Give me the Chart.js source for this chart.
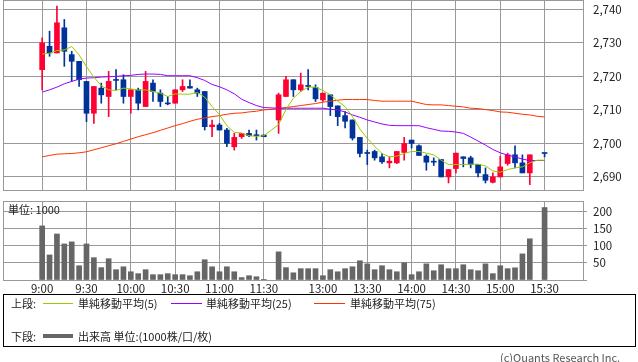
<!DOCTYPE html>
<html>
<head>
<meta charset="utf-8">
<script src="https://cdn.jsdelivr.net/npm/chart.js@4.4.1/dist/chart.umd.min.js"></script>
<style>
  body { margin: 0; background: #fff; width: 638px; height: 362px; position: relative; overflow: hidden;
         font-family: 'Noto Sans CJK JP', 'Noto Sans', sans-serif; font-size: 11px; color: #222; }
  canvas { position: absolute; left: 0; }
  #price { top: 0; }
  #volume { top: 196px; }
  .t { position: absolute; line-height: 14px; white-space: nowrap; }
  .ln { position: absolute; height: 1px; }
  #legend { position: absolute; left: 3px; top: 294px; width: 633px; height: 53px; box-sizing: border-box; border: 1px solid #000; }
</style>
</head>
<body>
<canvas id="price" width="638" height="192"></canvas>
<canvas id="volume" width="638" height="100"></canvas>

<div class="t" style="left:8px; top:202px;">単位: 1000</div>

<div id="legend"></div>
<div class="t" style="left:11px; top:296px;">上段:</div>
<div class="ln" style="left:43px; top:303px; width:30px; background:#99cc00;"></div>
<div class="t" style="left:78px; top:296px;">単純移動平均(5)</div>
<div class="ln" style="left:171px; top:303px; width:31px; background:#9900ff;"></div>
<div class="t" style="left:206px; top:296px;">単純移動平均(25)</div>
<div class="ln" style="left:314px; top:303px; width:31px; background:#ff3300;"></div>
<div class="t" style="left:350px; top:296px;">単純移動平均(75)</div>
<div class="t" style="left:11px; top:329px;">下段:</div>
<div class="ln" style="left:43px; top:334px; width:30px; height:4px; background:#666;"></div>
<div class="t" style="left:78px; top:329px;">出来高 単位:(1000株/口/枚)</div>
<div class="t" style="left:500px; top:350px; color:#555;">(c)Quants Research Inc.</div>

<script>
// 5-minute slots: 9:00 .. 11:30, one empty lunch slot, 12:30 .. 15:30
const tickSlots = [0, 6, 12, 18, 24, 30, 38, 44, 50, 56, 62, 68];
const tickLabels = ['9:00', '9:30', '10:00', '10:30', '11:00', '11:30', '13:00', '13:30', '14:00', '14:30', '15:00', '15:30'];

const priceTicks = [2690, 2700, 2710, 2720, 2730, 2740];
const volumeTicks = [0, 50, 100, 150, 200];

const open = [2722, 2729, 2727, 2734.5, 2726.5, 2724.5, 2718.5, 2709, 2716.5, 2714,
  2719, 2719, 2714, 2716, 2711, 2718, 2715, 2712, 2712, 2716,
  2717, 2716, 2715.5, 2705, 2705.5, 2704, 2699, 2702, 2703, 2702.5,
  2702.5, null, 2707, 2714, 2719, 2716, 2717.2, 2716.7, 2713, 2714.5,
  2711.2, 2708.3, 2707, 2701.8, 2697.3, 2697.6, 2696, 2694.2, 2694.2, 2697.3,
  2701, 2699.3, 2696.2, 2694.6, 2695.2, 2690, 2692.5, 2696, 2695.7, 2693.7,
  2690.7, 2688.4, 2690, 2694, 2696.6, 2694.2, 2691.2, null, 2697];
const high = [2731.5, 2733.5, 2741, 2737, 2727.5, 2724.5, 2718.5, 2717, 2718, 2721.5,
  2722, 2720.5, 2716, 2716.5, 2721.5, 2719, 2716, 2714, 2716, 2719,
  2719, 2716.5, 2715.5, 2707, 2706, 2704.5, 2703, 2703, 2704, 2704,
  2702.5, null, 2715, 2720, 2719, 2721, 2722, 2717.5, 2715, 2714.5,
  2711.2, 2709.5, 2707, 2701.8, 2698, 2698, 2697, 2696, 2697.6, 2701.8,
  2701, 2699.6, 2696.6, 2695.7, 2695.2, 2692.2, 2697.1, 2696, 2696.2, 2693.7,
  2692.7, 2691.2, 2696.2, 2697.1, 2699.3, 2696.6, 2696.6, null, 2697];
const low = [2716, 2726, 2727, 2723, 2718.5, 2717, 2706.5, 2706, 2712, 2708,
  2716, 2712, 2709, 2710, 2711, 2712.5, 2711, 2711.5, 2712, 2715.5,
  2716.5, 2714, 2704, 2702, 2704, 2699, 2698, 2701.5, 2702, 2701,
  2702, null, 2703, 2714, 2714, 2715.5, 2716, 2712.5, 2712.5, 2708.3,
  2705.3, 2704.6, 2701, 2696, 2693.7, 2695, 2694, 2692.7, 2694, 2695,
  2698.6, 2696.4, 2692, 2693.4, 2690, 2688.2, 2691.2, 2693, 2692.7, 2690,
  2688.2, 2688.2, 2690, 2693.5, 2692.7, 2691.2, 2687.7, null, 2696];
const close = [2730, 2727, 2736, 2727.5, 2724.5, 2719, 2709, 2717, 2714.5, 2718.5,
  2718.8, 2714, 2716, 2712, 2718.5, 2715.5, 2712.5, 2711.8, 2716, 2717,
  2716.5, 2715, 2705, 2705.5, 2704, 2700, 2701.8, 2703, 2702.3, 2702.3,
  2702, null, 2714.5, 2719, 2716, 2717.5, 2717, 2713.3, 2715, 2711,
  2708, 2706.6, 2701.6, 2697, 2697, 2695.7, 2694.5, 2694.7, 2697.6, 2700,
  2700, 2696.4, 2694.4, 2694.4, 2690, 2692.2, 2697.1, 2695.5, 2693.7, 2691.2,
  2689, 2690, 2693, 2696.6, 2694.2, 2691.2, 2696.6, null, 2697];

const sma5 = [2726.7, 2726.9, 2727.7, 2727.9, 2728.9, 2726.4, 2722.9, 2719.8, 2717.2, 2716.0,
  2715.8, 2716.5, 2716.3, 2715.9, 2716.0, 2715.5, 2715.0, 2714.0, 2714.8, 2714.7,
  2714.7, 2715.2, 2713.8, 2711.0, 2708.6, 2705.3, 2703.3, 2703.1, 2702.3, 2702.1,
  2702.3, null, 2705.6, 2710.1, 2713.5, 2715.5, 2716.8, 2716.8, 2715.8, 2714.5,
  2712.6, 2711.0, 2708.0, 2704.3, 2701.5, 2699.1, 2697.0, 2696.0, 2696.2, 2697.0,
  2697.6, 2697.6, 2697.1, 2696.6, 2695.0, 2693.7, 2693.7, 2693.7, 2693.8, 2693.8,
  2693.3, 2691.8, 2691.4, 2692.2, 2692.7, 2693.0, 2694.2, 2695.0, 2695.0];
const sma25 = [2715.3, 2716.0, 2716.8, 2717.8, 2718.5, 2719.2, 2719.5, 2719.6, 2719.8, 2719.9,
  2720.0, 2720.2, 2720.3, 2720.6, 2720.7, 2720.7, 2720.6, 2720.2, 2720.2, 2720.2,
  2720.2, 2719.6, 2718.8, 2717.6, 2716.9, 2716.0, 2714.8, 2713.2, 2712.2, 2711.3,
  2710.7, null, 2710.5, 2710.5, 2710.5, 2710.5, 2710.5, 2710.5, 2710.5, 2710.2,
  2710.0, 2709.4, 2708.5, 2707.8, 2707.0, 2706.4, 2705.8, 2705.4, 2705.3, 2705.3,
  2705.3, 2705.3, 2704.7, 2704.2, 2703.7, 2703.6, 2703.4, 2703.0, 2701.9, 2700.7,
  2699.5, 2698.2, 2697.2, 2696.5, 2696.0, 2695.3, 2694.9, 2694.9, 2694.9];
const sma75 = [2696.0, 2696.4, 2696.8, 2696.9, 2697.0, 2697.2, 2697.5, 2698.1, 2698.7, 2699.3,
  2699.9, 2700.6, 2701.3, 2702.0, 2702.6, 2703.2, 2703.9, 2704.6, 2705.3, 2705.9,
  2706.6, 2707.2, 2707.6, 2708.0, 2708.3, 2708.7, 2709.0, 2709.1, 2709.4, 2709.6,
  2710.0, null, 2710.4, 2710.7, 2711.0, 2711.3, 2711.6, 2711.9, 2712.3, 2712.6,
  2712.9, 2713.1, 2713.1, 2713.1, 2713.1, 2712.8, 2712.6, 2712.6, 2712.6, 2712.6,
  2712.6, 2712.1, 2711.6, 2711.5, 2711.5, 2711.3, 2711.1, 2710.9, 2710.5, 2710.4,
  2710.1, 2709.8, 2709.4, 2709.3, 2709.0, 2708.7, 2708.5, 2708.1, 2707.9];

const volume = [157.5, 73, 134, 105, 111, 41.5, 105, 65, 36, 62,
  30, 38.5, 24, 18.5, 30, 15.5, 15.5, 18.5, 15.5, 15.5,
  12.5, 24, 59, 38.5, 24, 38.5, 24, 7, 12.5, 9.5,
  1, null, 82, 36, 21, 33, 33, 33, 12.5, 30,
  24, 33, 38.5, 56, 47, 30, 41.5, 30, 24, 50,
  15.5, 24, 47, 27, 44.5, 33, 33, 44.5, 30, 27,
  47, 18.5, 41.5, 33, 35.5, 76, 120, null, 211];

const UP = '#ff0033';
const DOWN = '#003399';
const GRID = '#999999';
const FONT = { family: "'Noto Sans CJK JP', 'Noto Sans', sans-serif", size: 11.5 };

const slots = open.map((o, i) => (o === null ? null : i)).filter(i => i !== null);
const candleColors = slots.map(i => (close[i] > open[i] ? UP : DOWN));
const bodies = slots.map(i => ({ x: i, y: [open[i], close[i]] }));
const wicks = slots.map(i => ({ x: i, y: [low[i], high[i]] }));
const volBars = volume.map((v, i) => ({ x: i, y: v })).filter(p => p.y !== null);
const toPoints = arr => arr.map((v, i) => ({ x: i, y: v }));

const frame = {
  id: 'frame',
  beforeDatasetsDraw(chart) {
    const { ctx, chartArea: a } = chart;
    ctx.save();
    ctx.strokeStyle = GRID;
    ctx.lineWidth = 1;
    ctx.strokeRect(Math.round(a.left) + 0.5, Math.round(a.top) + 0.5,
      Math.round(a.right - a.left), Math.round(a.bottom - a.top));
    ctx.restore();
  }
};

// no extra room for half tick labels at the ends of the value axis
const noEndPadding = s => { s.paddingTop = 0; s.paddingBottom = 0; s.width = 55; };

function xScale(showLabels) {
  return {
    type: 'linear',
    min: -5.3,
    max: 73.2,
    offset: false,
    afterBuildTicks: s => { s.ticks = tickSlots.map(v => ({ value: v })); },
    afterFit: s => { s.height = showLabels ? 14 : 1; },
    ticks: {
      display: showLabels,
      autoSkip: false,
      maxRotation: 0,
      padding: 2,
      color: '#222',
      font: FONT,
      callback: (v, i) => tickLabels[i]
    },
    grid: { color: GRID, drawTicks: false, offset: false },
    border: { color: GRID }
  };
}

new Chart(document.getElementById('price'), {
  type: 'bar',
  data: {
    datasets: [
      { type: 'line', label: '単純移動平均(5)', data: toPoints(sma5), borderColor: '#99cc00',
        borderWidth: 1, pointRadius: 0, spanGaps: true, tension: 0, order: 0 },
      { type: 'line', label: '単純移動平均(25)', data: toPoints(sma25), borderColor: '#9900ff',
        borderWidth: 1, pointRadius: 0, spanGaps: true, tension: 0, order: 0 },
      { type: 'line', label: '単純移動平均(75)', data: toPoints(sma75), borderColor: '#ff3300',
        borderWidth: 1, pointRadius: 0, spanGaps: true, tension: 0, order: 0 },
      { label: 'body', data: bodies, backgroundColor: candleColors, borderWidth: 0,
        barThickness: 5, minBarLength: 1, grouped: false, order: 1 },
      { label: 'wick', data: wicks, backgroundColor: candleColors, borderWidth: 0,
        barThickness: 1, minBarLength: 1, grouped: false, order: 2 }
    ]
  },
  options: {
    responsive: false,
    animation: false,
    layout: { padding: { left: 3, top: 0, right: 0, bottom: 1 } },
    plugins: { legend: { display: false }, tooltip: { enabled: false } },
    scales: {
      x: xScale(false),
      y: {
        position: 'right',
        min: 2686.1,
        max: 2742.8,
        afterBuildTicks: s => { s.ticks = priceTicks.map(v => ({ value: v })); },
        afterFit: noEndPadding,
        ticks: { padding: 10, color: '#222', font: FONT, callback: v => v.toLocaleString('en-US') },
        grid: { color: GRID, tickLength: 0 },
        border: { color: GRID }
      }
    }
  },
  plugins: [frame]
});

new Chart(document.getElementById('volume'), {
  type: 'bar',
  data: {
    datasets: [
      { label: '出来高', data: volBars, backgroundColor: '#666666', borderWidth: 0, barThickness: 5 }
    ]
  },
  options: {
    responsive: false,
    animation: false,
    layout: { padding: { left: 3, top: 5, right: 0, bottom: 2 } },
    plugins: { legend: { display: false }, tooltip: { enabled: false } },
    scales: {
      x: xScale(true),
      y: {
        position: 'right',
        min: 0,
        max: 230,
        afterBuildTicks: s => { s.ticks = volumeTicks.map(v => ({ value: v })); },
        afterFit: noEndPadding,
        ticks: { padding: 6, color: '#222', font: FONT, callback: v => (v === 0 ? '' : v) },
        grid: { color: GRID, tickLength: 4 },
        border: { color: GRID }
      }
    }
  },
  plugins: [frame]
});
</script>
</body>
</html>
